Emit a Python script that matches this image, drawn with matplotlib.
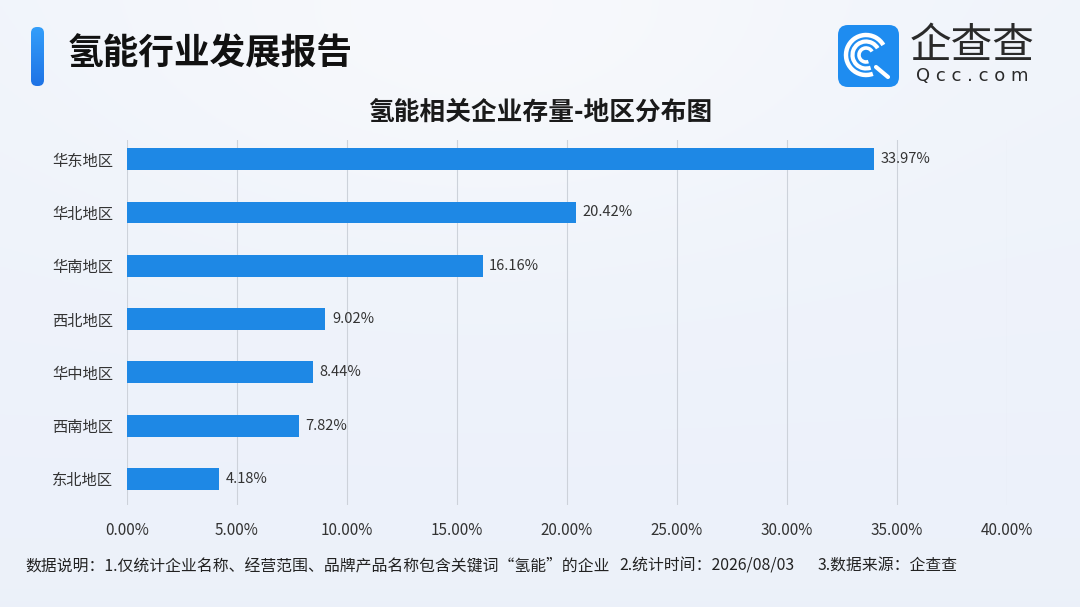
import numpy as np
import matplotlib.pyplot as plt
from matplotlib.patches import FancyBboxPatch, Arc
from matplotlib.ticker import FuncFormatter

plt.rcParams['font.family'] = ['Noto Sans CJK SC', 'DejaVu Sans']

# data
regions = ['华东地区', '华北地区', '华南地区', '西北地区', '华中地区', '西南地区', '东北地区']
shares = [33.97, 20.42, 16.16, 9.02, 8.44, 7.82, 4.18]
x_ticks = [0, 5, 10, 15, 20, 25, 30, 35, 40]

title = '氢能行业发展报告'
subtitle = '氢能相关企业存量-地区分布图'
notes = ['数据说明：1.仅统计企业名称、经营范围、品牌产品名称包含关键词“氢能”的企业',
         '2.统计时间：2026/08/03',
         '3.数据来源：企查查']

W, H = 1080, 607
BAR = '#1E88E5'

fig = plt.figure(figsize=(W / 100, H / 100), dpi=100)

# background layer in pixel coordinates
bg = fig.add_axes([0, 0, 1, 1])
bg.set_xlim(0, W)
bg.set_ylim(H, 0)
bg.axis('off')
yy, xx = np.mgrid[0:1:200j, 0:1:360j]
glow = np.exp(-(((xx - 0.45) / 0.35) ** 2 + ((yy - 0.05) / 0.35) ** 2))
base = np.array([0.925, 0.945, 0.980])
white = np.array([0.975, 0.980, 0.990])
img = base[None, None, :] + (white - base)[None, None, :] * (0.55 * glow + 0.35 * (1 - yy))[..., None]
bg.imshow(np.clip(img, 0, 1), extent=[0, W, H, 0], aspect='auto', zorder=0)

# left accent bar
grad = np.linspace(0, 1, 60)[:, None]
acc = np.array([0.20, 0.62, 0.98]) * (1 - grad[..., None]) + np.array([0.12, 0.45, 0.90]) * grad[..., None]
bg.imshow(np.repeat(acc, 2, axis=1), extent=[31, 44, 86, 27], aspect='auto', zorder=1)
clip = FancyBboxPatch((31, 27), 13, 59, boxstyle='round,pad=0,rounding_size=6',
                      transform=bg.transData, facecolor='none', edgecolor='none')
bg.add_patch(clip)
bg.images[-1].set_clip_path(clip)

bg.text(68, 54, title, fontsize=25.7, fontweight='bold', color='#111111',
        va='center', ha='left')

# logo
bg.add_patch(FancyBboxPatch((838, 25), 61, 62, boxstyle='round,pad=0,rounding_size=10',
                            facecolor='#1E8CF0', edgecolor='none', zorder=2))
cx, cy = 866, 55
for d, lw in [(40, 3.2), (27, 3.0), (14, 2.6)]:
    bg.add_patch(Arc((cx, cy), d, d, theta1=70, theta2=330, color='white', lw=lw, zorder=3))
bg.plot([cx + 10, cx + 22], [cy + 12, cy + 22], color='white', lw=3, zorder=3,
        solid_capstyle='round')
bg.text(972, 46, '企查查', fontsize=30, color='#2a2a2a', va='center', ha='center',
        fontweight='light')
bg.text(972, 76, 'Q c c . c o m', fontsize=13, color='#2a2a2a', va='center',
        ha='center', fontfamily='DejaVu Sans')

bg.text(540, 112, subtitle, fontsize=18.5, fontweight='bold', color='#1a1a1a',
        va='center', ha='center')

for x0, t in zip([25, 619, 818], notes):
    bg.text(x0, 566, t, fontsize=11.4, color='#222222', va='center', ha='left')

# main chart
y_top_px, y_bot_px = 140, 505
ax = fig.add_axes([127 / W, 1 - y_bot_px / H, (1007 - 127) / W, (y_bot_px - y_top_px) / H])
ax.patch.set_alpha(0)
pos = np.arange(len(regions))
ax.barh(pos, shares, height=0.41, color=BAR, zorder=3)
for p, v in zip(pos, shares):
    ax.text(v + 0.3, p, f'{v:.2f}%', va='center', ha='left', fontsize=10.5,
            color='#333333', zorder=4)
ax.set_xlim(0, 40)
ax.set_ylim(6.49, -0.36)
ax.set_xticks(x_ticks)
ax.xaxis.set_major_formatter(FuncFormatter(lambda v, _: f'{v:.2f}%'))
ax.set_yticks(pos)
ax.set_yticklabels(regions)
ax.tick_params(axis='both', length=0, labelsize=11, colors='#333333')
ax.tick_params(axis='x', pad=12)
ax.tick_params(axis='y', pad=10)
ax.grid(axis='x', color='#CDD2DA', lw=0.8, zorder=0)
for s in ax.spines.values():
    s.set_visible(False)

fig.savefig('out.png', dpi=100)
